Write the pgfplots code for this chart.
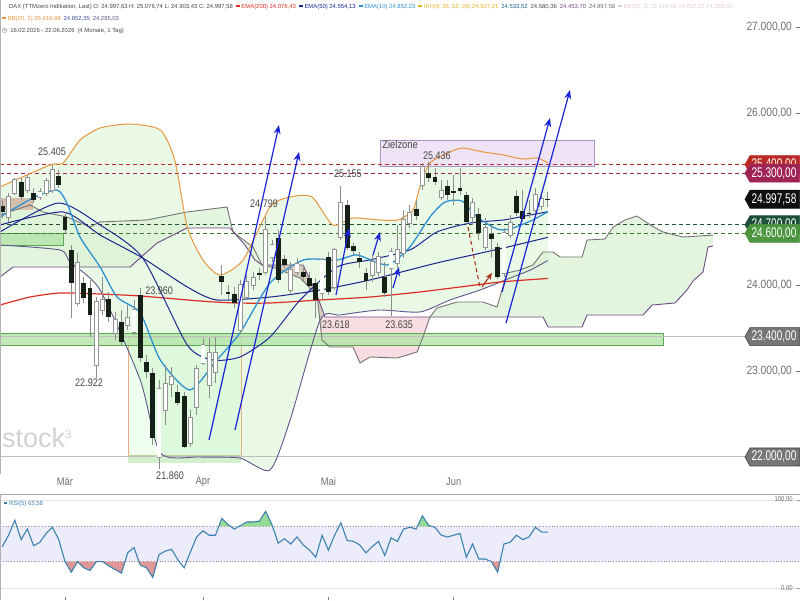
\documentclass[border=0pt]{standalone}
\usepackage{pgfplots}
\pgfplotsset{compat=1.18}
\usepackage{pgfplotstable}
\usepgfplotslibrary{fillbetween}
\usetikzlibrary{arrows.meta}
\usepackage{fontspec}
\setmainfont{Liberation Sans}
\newfontfamily\dejavu{DejaVu Sans}

\definecolor{bbfill}{RGB}{234,248,230}
\definecolor{cloudgreen}{RGB}{218,242,212}
\definecolor{cloudbrown}{RGB}{214,204,188}
\definecolor{cloudpink}{RGB}{248,222,226}
\definecolor{bbup}{RGB}{232,150,60}
\definecolor{bblow}{RGB}{95,85,140}
\definecolor{bbmid}{RGB}{30,40,150}
\definecolor{ema50}{RGB}{25,35,140}
\definecolor{ema10}{RGB}{45,145,210}
\definecolor{ema200}{RGB}{220,45,35}
\definecolor{spana}{RGB}{115,115,115}
\definecolor{spanb}{RGB}{110,75,130}
\definecolor{candleblack}{RGB}{22,32,22}
\definecolor{candleedge}{RGB}{150,150,150}
\definecolor{wick}{RGB}{140,140,140}
\definecolor{arrowblue}{RGB}{25,35,215}
\definecolor{arrowred}{RGB}{170,50,30}
\definecolor{zonegreen}{RGB}{180,228,170}
\definecolor{zoneedge}{RGB}{90,165,80}
\definecolor{zielfill}{RGB}{238,228,246}
\definecolor{zieledge}{RGB}{170,150,195}
\definecolor{orangebox}{RGB}{232,175,135}
\definecolor{tanbox}{RGB}{212,192,170}
\definecolor{tagred}{RGB}{185,40,35}
\definecolor{tagmaroon}{RGB}{160,35,85}
\definecolor{tagblack}{RGB}{15,15,15}
\definecolor{tagdkgreen}{RGB}{28,80,58}
\definecolor{taggreen}{RGB}{75,150,62}
\definecolor{taggray}{RGB}{118,118,118}
\definecolor{labgray}{RGB}{110,110,110}
\definecolor{txtgray}{RGB}{70,70,70}
\definecolor{rsiblue}{RGB}{60,130,175}
\definecolor{rsiband}{RGB}{236,236,250}
\definecolor{rsigreen}{RGB}{150,220,150}
\definecolor{rsired}{RGB}{225,150,150}
\definecolor{gridgray}{RGB}{225,225,225}
\definecolor{linegray}{RGB}{190,190,190}
\definecolor{ikh}{RGB}{230,180,40}
\definecolor{paletxt}{RGB}{225,205,205}

% OHLC candles, t=1 white (up), t=0 black (down)
\pgfplotstableread{
i O H L C t
0 24919 24988 24779 24849 0
1 24791 25070 24733 25023 1
2 25070 25244 25047 25221 1
3 25198 25244 24988 25023 0
4 25105 25279 25070 25244 1
5 25070 25128 24953 24988 0
6 25023 25128 24988 25081 1
7 25070 25244 25035 25209 1
8 25105 25405 25070 25337 1
9 25267 25337 25128 25163 0
10 24791 24849 24605 24640 0
11 24407 24465 23616 24023 0
12 23791 24372 23756 24256 1
13 24023 24093 23791 23849 0
14 23965 24058 23395 23651 0
15 23070 23860 22922 23802 1
16 23709 24093 23651 23826 1
17 23837 23919 23570 23628 0
18 23442 23686 23360 23593 1
19 23570 23709 23302 23337 0
20 23535 23767 23477 23616 1
21 23453 23826 23419 23709 1
22 23884 23960 23105 23151 0
23 23105 23186 22919 22988 0
24 22977 23035 22140 22221 0
25 22000 22895 21860 22791 1
26 22547 23070 22372 22849 1
27 22849 23047 22698 22930 1
28 22756 22837 22605 22628 0
29 22709 22756 22105 22116 0
30 22163 22547 22116 22453 1
31 22581 23070 22488 23023 1
32 23093 23384 23070 23302 1
33 22837 23384 22686 23209 1
34 22988 23395 22860 23209 1
35 24105 24233 23884 24035 0
36 23919 24000 23826 23895 0
37 23895 23977 23733 23791 0
38 23477 24058 23442 24000 1
39 23860 24116 23826 24035 1
40 24000 24151 23942 24081 1
41 24140 24198 24058 24116 0
42 24151 24790 24116 24640 1
43 24326 24523 24267 24465 1
44 24547 24640 24023 24058 0
45 24302 24349 24198 24233 0
46 23942 24267 23907 24174 1
47 24151 24314 24116 24244 1
48 24151 24233 24035 24093 0
49 24081 24151 23942 23988 0
50 24023 24081 23618 23826 0
51 23907 24314 23826 24291 1
52 24326 24384 23884 23919 0
53 23977 24430 23942 24407 1
54 24558 25155 24523 24953 1
55 24930 24988 24407 24430 0
56 24453 24488 24349 24395 0
57 24314 24384 24198 24267 0
58 24140 24198 23942 24047 0
59 24116 24349 24035 24267 1
60 24151 24384 24105 24326 1
61 24093 24267 23860 23907 0
62 24198 24430 23635 24384 1
63 24256 24698 24198 24407 1
64 24372 24872 24314 24756 1
65 24721 24930 24663 24837 1
66 24884 24988 24756 24802 0
67 25163 25419 25105 25372 1
68 25302 25436 25198 25244 0
69 25256 25360 25163 25198 0
70 25023 25221 24988 25093 1
71 25151 25221 24988 25047 0
72 25093 25279 24930 25081 0
73 25128 25360 25047 25093 0
74 25047 25081 24698 24733 0
75 24791 25012 24698 24953 1
76 24826 24895 24523 24605 0
77 24442 24779 24407 24663 1
78 24593 24698 24314 24535 0
79 24442 24488 24070 24093 0
80 24140 24663 24093 24605 1
81 24581 24814 24547 24721 1
82 25035 25105 24802 24837 0
83 24860 25105 24733 24767 0
84 24837 24988 24779 24826 0
85 24872 25128 24826 25047 1
86 24919 25081 24872 25000 1
87 24997.63 25076.74 24903.43 24997.58 0
}\candles

\pgfplotstableread{
x y
-0.37 25140
7.6 25395
9.7 25419
12.4 25686
15.6 25826
20.4 25872
25.2 25802
27.5 25453
29.5 24674
32.0 24291
34.7 24116
38.4 24291
42.7 24907
45.9 25023
49.4 25023
52.7 24698
55.9 24779
60.2 24756
63.1 24756
65.5 24872
66.6 25140
68.2 25419
71.4 25547
73.5 25593
76.7 25547
79.9 25512
83.0 25465
85.3 25477
87 25419.68
}\bbupper

\pgfplotstableread{
x y
-0.37 24465
9.2 24407
10.8 24267
15.6 23942
22.0 22895
25.2 22047
31.5 22000
37.9 21988
42.7 21849
45.9 22430
50.7 23593
53.9 23651
60.2 23709
66.6 23686
71.4 23826
76.2 23942
81.0 24081
84.2 24174
87 24285.03
}\bblower

\pgfplotstableread{
x y
-0.37 24616
8.88 24953
15.6 24698
22.4 24314
29.5 23302
33.6 23128
37.9 23163
42.7 23395
47.5 23826
53.4 24209
58.6 24291
65.0 24407
69.3 24616
74.6 24721
79.9 24756
84.2 24814
87 24852.35
}\bbmiddle

\pgfplotstableread{
x y
-0.37 24698
9.7 24849
15.6 24581
22.4 24314
29.5 23977
34.2 23826
42.7 23860
50.7 23942
58.6 24058
69.3 24256
79.9 24430
87 24554.13
}\emafifty

\pgfplotstableread{
x y
-0.37 24791
4.9 25012
8.7 25105
10.3 24953
12.4 24558
15.6 24209
18.3 23860
22.0 23674
25.2 23128
29.9 22779
34.2 23128
37.9 23442
42.7 24023
48.0 24291
53.4 24291
56.6 24349
61.4 24233
65.0 24442
68.2 24791
70.6 24965
73.3 24977
75.7 24791
78.9 24651
81.0 24651
84.6 24756
87 24852.23
}\ematen

\pgfplotstableread{
x y
-0.37 23767
4.4 23860
9.2 23907
15.6 23895
22.0 23872
31.5 23814
37.1 23791
42.7 23791
50.7 23826
58.6 23860
66.6 23919
73.0 23977
79.4 24035
87 24076.43
}\ematwohundred

\pgfplotstableread{
x y
-0.37 24814
4.42 24930
6.49 24849
10.32 24791
13.99 24674
15.58 24733
23.08 24756
29.46 24849
35.84 24907
36.8 24616
39.99 24442
41.42 24233
43.49 24198
47.48 24081
50.19 23884
50.99 23360
52.27 23279
55.93 23279
57.05 23093
58.64 23163
62.95 23151
66.14 23221
67.1 23395
68.21 23628
69.33 23733
72.52 23802
76.67 23802
78.9 23744
80.5 24140
82.57 24174
84.64 24233
86.24 24384
87.83 24384
88.95 24326
92.46 24326
93.25 24523
96.12 24535
97.4 24674
99.31 24756
101.23 24802
103.62 24686
105.37 24616
108.56 24558
113.35 24580.36
}\spanA

\pgfplotstableread{
x y
-0.37 24093
1.71 24209
20.37 24209
24.67 24488
29.46 24663
36.32 24663
38.71 24465
40.3 24291
41.42 24233
47.96 24233
49.87 23942
51.47 23628
86.24 23628
87.03 23512
92.46 23512
93.25 23651
102.2 23651
103.62 23767
107.29 23791
109.2 23942
110.16 24047
111.75 24151
112.55 24442
113.35 24453.70
}\spanB

\pgfplotstableread{
i v
0 47
1 60
2 77
3 55
4 67
5 48
6 52
7 62
8 69
9 55
10 30
11 18
12 30
13 23
14 20
15 30
16 30
17 25
18 21
19 17
20 40
21 46
22 26
23 23
24 12
25 38
26 42
27 44
28 32
29 23
30 41
31 58
32 65
33 60
34 60
35 79
36 72
37 67
38 71
39 75
40 75
41 76
42 87
43 72
44 51
45 56
46 50
47 58
48 49
49 43
50 35
51 60
52 43
53 60
54 74
55 54
56 53
57 49
58 40
59 47
60 53
61 37
62 57
63 53
64 67
65 69
66 67
67 82
68 71
69 69
70 60
71 58
72 60
73 62
74 35
75 50
76 33
77 33
78 30
79 18
80 50
81 52
82 60
83 55
84 58
85 69
86 63.58
87 63.58
}\rsi

\newcommand{\pricetag}[4]{%
  \filldraw[fill=#2, draw=#4, line width=0.6pt] (axis cs:118.45,#1) -- ++(5pt,9pt) -- ++(49.6pt,0pt) -- ++(0pt,-18pt) -- ++(-49.6pt,0pt) -- cycle;
  \node[text=white, font=\fontsize{14}{14}\selectfont, xscale=0.72, inner sep=0pt] at ([xshift=29pt]axis cs:118.45,#1) {#3};}

\begin{document}
\begin{tikzpicture}
%================ MAIN PRICE PANEL =================
\begin{axis}[
  at={(0pt,126pt)}, anchor=south west,
  scale only axis, width=800pt, height=474pt,
  xmin=-0.367, xmax=127.22, ymin=21802.3, ymax=27314,
  clip=false,
  axis line style={draw=none},
  xtick={10,32,52,72}, xticklabels={Mär,Apr,Mai,Jun},
  xtick pos=bottom,
  x tick style={draw=none},
  xticklabel style={font=\fontsize{11}{11}\selectfont, text=labgray, xscale=0.85, anchor=center, yshift=-8pt},
  ytick={23000,24000,26000,27000},
  yticklabels={{23.000,00},{24.000,00},{26.000,00},{27.000,00}},
  ytick pos=right, yticklabel pos=right,
  tick align=inside, major tick length=4pt,
  y tick style={draw=labgray, line width=0.6pt},
  yticklabel style={font=\fontsize{12}{12}\selectfont, text=labgray, xscale=0.85, anchor=east, xshift=-6pt},
]
% invisible boundaries for fills
\addplot[draw=none, smooth, tension=0.4, name path=bbuI, forget plot] table {\bbupper};
\addplot[draw=none, smooth, tension=0.4, name path=bblI, forget plot] table {\bblower};
\addplot[draw=none, name path=saI, forget plot] table {\spanA};
\addplot[draw=none, name path=sbI, forget plot] table {\spanB};
\addplot[fill=bbfill, forget plot] fill between[of=bbuI and bblI];
\addplot[fill=cloudgreen, fill opacity=0.75, forget plot] fill between[of=saI and sbI];
% bearish cloud sections (span B above span A)
\addplot[fill=cloudbrown, draw=none, forget plot] coordinates {(41.42,24233) (43.49,24198) (47.48,24081) (50.19,23884) (50.99,23360) (50.99,23722) (49.87,23942) (47.96,24233)};
\addplot[fill=cloudpink, draw=none, forget plot] coordinates {(50.99,23360) (52.27,23279) (55.93,23279) (57.05,23093) (58.64,23163) (62.95,23151) (66.14,23221) (67.1,23395) (68.21,23628) (51.47,23628) (50.99,23722)};

% zones
\fill[tanbox] (axis cs:-0.367,24872) rectangle (axis cs:4.9,25012);
\fill[zonegreen, fill opacity=0.8] (axis cs:-0.367,24465) rectangle (axis cs:9.7,24605);
\draw[zoneedge, line width=0.8pt] (axis cs:-0.367,24465) -- (axis cs:9.7,24465) -- (axis cs:9.7,24605) -- (axis cs:-0.367,24605);
\fill[green!25!white, fill opacity=0.25] (axis cs:20.05,22023) rectangle (axis cs:38.07,23395);
\draw[orangebox, line width=0.8pt] (axis cs:20.05,22023) rectangle (axis cs:38.07,23395);
\fill[zonegreen, fill opacity=0.6] (axis cs:20.0,21930) rectangle (axis cs:38.07,22023);
\fill[zielfill] (axis cs:60.24,25384) rectangle (axis cs:94.37,25686);
\draw[zieledge, line width=0.8pt] (axis cs:60.24,25384) rectangle (axis cs:94.37,25686);
\node[anchor=west, text=txtgray, font=\fontsize{11}{11}\selectfont, xscale=0.85, inner sep=0pt] at (axis cs:60.6,25628) {Zielzone};

% horizontal levels
\addplot[linegray, line width=1pt, forget plot] coordinates {(-0.367,22000) (118.45,22000)};
\fill[zonegreen, fill opacity=0.8] (axis cs:-0.367,23302) rectangle (axis cs:105.37,23442);
\draw[zoneedge, line width=0.8pt] (axis cs:-0.367,23302) -- (axis cs:105.37,23302) -- (axis cs:105.37,23442) -- (axis cs:-0.367,23442);
\addplot[linegray, line width=1pt, forget plot] coordinates {(-0.367,23400) (118.45,23400)};
\addplot[tagred, line width=1pt, dash pattern=on 4pt off 3pt, forget plot] coordinates {(-0.367,25400) (118.45,25400)};
\addplot[tagmaroon, line width=1pt, dash pattern=on 4pt off 3pt, forget plot] coordinates {(-0.367,25300) (118.45,25300)};
\addplot[tagdkgreen, line width=1pt, dash pattern=on 4pt off 3pt, forget plot] coordinates {(-0.367,24700) (118.45,24700)};
\addplot[taggreen!80!black, line width=1pt, dash pattern=on 4pt off 3pt, forget plot] coordinates {(-0.367,24600) (118.45,24600)};

% cloud lines
\addplot[spana, line width=0.9pt, forget plot] table {\spanA};
\addplot[spanb, line width=0.9pt, forget plot] table {\spanB};
% indicator lines
\addplot[bbup, line width=1pt, smooth, tension=0.4, forget plot] table {\bbupper};
\addplot[bblow, line width=0.9pt, smooth, tension=0.4, forget plot] table {\bblower};
\addplot[ema200, line width=1.2pt, smooth, tension=0.4, forget plot] table {\ematwohundred};
\addplot[bbmid, line width=1pt, smooth, tension=0.4, forget plot] table {\bbmiddle};
\addplot[ema50, line width=1pt, smooth, tension=0.4, forget plot] table {\emafifty};
\addplot[ema10, line width=1.3pt, smooth, tension=0.4, forget plot] table {\ematen};

% candles: wicks
\addplot[forget plot, draw=none, mark=none,
  error bars/.cd, y dir=both, y explicit, error mark=none,
  error bar style={draw=wick, line width=0.8pt}]
  table[x=i, y expr={(\thisrow{H}+\thisrow{L})/2}, y error expr={(\thisrow{H}-\thisrow{L})/2}] {\candles};
% black bodies
\addplot[forget plot, draw=none, mark=none, restrict expr to domain={\thisrow{t}}{-0.5:0.5},
  error bars/.cd, y dir=both, y explicit, error mark=none,
  error bar style={draw=candleblack, line width=4.8pt}]
  table[x=i, y expr={(\thisrow{O}+\thisrow{C})/2}, y error expr={max(abs(\thisrow{O}-\thisrow{C})/2,8)}] {\candles};
% white bodies: edge then fill
\addplot[forget plot, draw=none, mark=none, restrict expr to domain={\thisrow{t}}{0.5:1.5},
  error bars/.cd, y dir=both, y explicit, error mark=none,
  error bar style={draw=candleedge, line width=4.8pt}]
  table[x=i, y expr={(\thisrow{O}+\thisrow{C})/2}, y error expr={max(abs(\thisrow{O}-\thisrow{C})/2,8)+7}] {\candles};
\addplot[forget plot, draw=none, mark=none, restrict expr to domain={\thisrow{t}}{0.5:1.5},
  error bars/.cd, y dir=both, y explicit, error mark=none,
  error bar style={draw=white, line width=3.2pt}]
  table[x=i, y expr={(\thisrow{O}+\thisrow{C})/2}, y error expr={max(abs(\thisrow{O}-\thisrow{C})/2,8)}] {\candles};

% arrows
\begin{scope}[arrowblue, line width=1.2pt, -{Stealth[length=9pt,width=7pt]}]
\draw (axis cs:32.97,22198) -- (axis cs:44.13,25860);
\draw (axis cs:37.11,22314) -- (axis cs:47.32,25547);
\draw (axis cs:53.22,23884) -- (axis cs:55.3,24663);
\draw (axis cs:59.12,24349) -- (axis cs:60.24,24616);
\draw (axis cs:62.31,23965) -- (axis cs:63.27,24209);
\draw (axis cs:79.7,23919) -- (axis cs:87.35,25942);
\draw (axis cs:80.34,23558) -- (axis cs:90.54,26267);
\end{scope}
\draw[arrowred, line width=1.1pt, dash pattern=on 4pt off 3pt] (axis cs:74.27,24674) -- (axis cs:76.19,23965);
\draw[arrowred, line width=1.1pt, -{Stealth[length=7pt,width=6pt]}] (axis cs:76.5,23977) -- (axis cs:78.1,24140);

% value labels
\begin{scope}[every node/.style={text=txtgray, font=\fontsize{11}{11}\selectfont, xscale=0.82, inner sep=0pt}]
\node at (axis cs:7.93,25547) {25.405};
\node at (axis cs:41.74,24942) {24.799};
\node at (axis cs:55.1,25291) {25.155};
\node at (axis cs:69.3,25500) {25.436};
\node at (axis cs:25.0,23930) {23.960};
\node at (axis cs:13.83,22860) {22.922};
\node at (axis cs:26.75,21779) {21.860};
\node at (axis cs:53.2,23535) {23.618};
\node at (axis cs:63.3,23535) {23.635};
\end{scope}

% watermark
\node[anchor=base west, text=black!18, font=\fontsize{27}{27}\selectfont, inner sep=0pt] at (axis cs:-0.05,22105) {stock\raisebox{9pt}{\fontsize{12}{12}\selectfont 3}};

% price tags
\pricetag{25400}{tagred}{25.400,00}{tagred}
\pricetag{25300}{tagmaroon}{25.300,00}{tagmaroon}
\pricetag{24997.58}{tagblack}{24.997,58}{tagblack}
\pricetag{24700}{tagdkgreen}{24.700,00}{tagdkgreen}
\pricetag{24600}{taggreen}{24.600,00}{taggreen}
\pricetag{23400}{taggray}{23.400,00}{black!75}
\pricetag{22000}{taggray}{22.000,00}{black!75}

% frame
\draw[black!45, line width=0.8pt] (rel axis cs:1,0) -- (rel axis cs:1,1);
\draw[black!30, line width=0.6pt] (rel axis cs:0,0) -- (rel axis cs:0,1);

% header legend
\node[anchor=west, inner sep=0pt, font=\fontsize{5.9}{7}\selectfont] at (axis cs:1.07,27233) {%
\textcolor{txtgray}{DAX (TTMzero Indikation, Last) O: 24.997,63 H: 25.076,74 L: 24.903,43 C: 24.997,58}\enspace
\textcolor{ema200}{\rule[1.5pt]{4pt}{2pt} EMA(200) 24.076,43}\enspace
\textcolor{ema50}{\rule[1.5pt]{4pt}{2pt} EMA(50) 24.554,13}\enspace
\textcolor{ema10}{\rule[1.5pt]{4pt}{2pt} EMA(10) 24.852,23}\enspace
\textcolor{ikh}{\rule[1.5pt]{4pt}{2pt} IKH(9, 26, 52, 26) 24.627,21}\enspace
\textcolor{ema10!70!black}{24.533,52}\enspace
\textcolor{txtgray}{24.580,36}\enspace
\textcolor{spanb}{24.453,70}\enspace
\textcolor{labgray}{24.997,58}\enspace
\textcolor{paletxt}{\rule[1.5pt]{4pt}{2pt} BB(20, 2) 25.419,68 24.852,35 24.285,03}};
\node[anchor=west, inner sep=0pt, font=\fontsize{5.9}{7}\selectfont] at (axis cs:-0.05,27093) {%
\textcolor{bbup}{\rule[1.5pt]{4pt}{2pt} BB(20, 2) 25.419,68}\enspace
\textcolor{ema50!80!white}{24.852,35}\enspace
\textcolor{bblow}{24.285,03}};
\node[anchor=west, inner sep=0pt, font=\fontsize{5.9}{7}\selectfont, text=txtgray] at (axis cs:-0.05,26954) {%
{\dejavu ◷}\enspace 16.02.2026 - 22.06.2026\enspace (4 Monate, 1 Tag)};
\end{axis}

%================ RSI PANEL =================
\begin{axis}[
  at={(0pt,0pt)}, anchor=south west,
  scale only axis, width=800pt, height=106pt,
  xmin=-0.367, xmax=127.22, ymin=-13.6, ymax=106.8,
  clip=false,
  axis line style={draw=none},
  xtick={10,32,52,72}, xticklabels={},
  xtick pos=bottom,
  tick align=inside, major tick length=3pt,
  x tick style={draw=black!50, line width=0.6pt},
  ytick={0,50,100}, yticklabels={{0,00},{50,00},{100,00}},
  ytick pos=right, yticklabel pos=right,
  y tick style={draw=black!40, line width=0.5pt},
  yticklabel style={font=\fontsize{7}{7}\selectfont, text=labgray, xscale=0.85, anchor=east, xshift=-5pt},
  ymajorgrids, major grid style={draw=gridgray, line width=0.6pt},
]
\addplot[fill=rsiband, draw=none, forget plot] coordinates {(-0.367,30) (127.22,30) (127.22,70) (-0.367,70)};
\addplot[black!45, dotted, line width=0.8pt, forget plot] coordinates {(-0.367,70) (127.22,70)};
\addplot[black!45, dotted, line width=0.8pt, forget plot] coordinates {(-0.367,30) (127.22,30)};
% overbought / oversold areas
\addplot[fill=rsigreen, draw=none, forget plot] coordinates {(34.53,70) (35,79) (36,72) (36.4,70)};
\addplot[fill=rsigreen, draw=none, forget plot] coordinates {(37.75,70) (38,71) (39,75) (40,75) (41,76) (42,87) (43,72) (43.1,70)};
\addplot[fill=rsigreen, draw=none, forget plot] coordinates {(66.2,70) (67,82) (68,71) (68.5,70)};
\addplot[fill=rsired, draw=none, forget plot] coordinates {(10,30) (11,18) (12,30)};
\addplot[fill=rsired, draw=none, forget plot] coordinates {(12,30) (13,23) (14,20) (15,30)};
\addplot[fill=rsired, draw=none, forget plot] coordinates {(16,30) (17,25) (18,21) (19,17) (19.57,30)};
\addplot[fill=rsired, draw=none, forget plot] coordinates {(21.8,30) (22,26) (23,23) (24,12) (24.69,30)};
\addplot[fill=rsired, draw=none, forget plot] coordinates {(78,30) (79,18) (79.375,30)};
\addplot[rsiblue, line width=1.1pt, forget plot] table[x=i, y=v] {\rsi};
\node[anchor=west, inner sep=0pt, font=\fontsize{6}{6}\selectfont, text=rsiblue] at (axis cs:0.3,96) {\rule[1.2pt]{3pt}{2pt} RSI(5) 63,58};
\draw[black!35, line width=0.8pt] (rel axis cs:0,1) -- (rel axis cs:1,1);
\draw[black!45, line width=0.8pt] (rel axis cs:1,0) -- (rel axis cs:1,1);
\draw[black!30, line width=0.6pt] (rel axis cs:0,0) -- (rel axis cs:0,1);
\end{axis}
\pgfresetboundingbox
\useasboundingbox (0,0) rectangle (800pt,600pt);
\end{tikzpicture}
\end{document}
